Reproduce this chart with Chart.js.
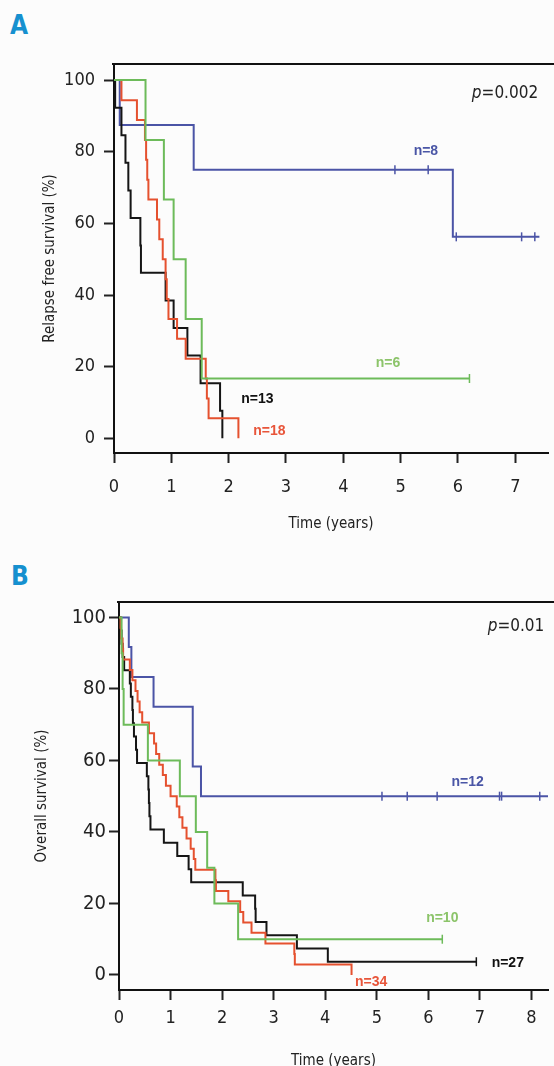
<!DOCTYPE html>
<html>
<head>
<meta charset="utf-8">
<script src="https://cdn.jsdelivr.net/npm/chart.js@4.4.1/dist/chart.umd.min.js"></script>
<style>
  html, body { margin: 0; padding: 0; background: #fcfcfc; overflow: hidden; }
  body { width: 554px; height: 1066px; position: relative; }
  .panel { position: absolute; left: 0; width: 554px; height: 540px; }
  .letter { position: absolute; font: bold 26px "DejaVu Sans", sans-serif; font-stretch: condensed; color: #1690cf; line-height: 1; }
</style>
</head>
<body>
<div class="letter" style="left:10px;top:12px">A</div>
<div class="panel" style="top:0"><canvas id="chartA" width="554" height="540"></canvas></div>
<div class="letter" style="left:11px;top:563px">B</div>
<div class="panel" style="top:540px"><canvas id="chartB" width="554" height="540"></canvas></div>
<script>
// ---- Panel A: relapse free survival ----
const timeA_blue = [0, 0.10, 1.39, 5.91, 7.42];
const survA_blue = [100, 87.5, 75, 56.25, 56.25];
const censA_blue = [4.90, 5.48, 5.97, 7.11, 7.34];

const timeA_green = [0, 0.55, 0.87, 1.04, 1.25, 1.53, 6.20];
const survA_green = [100, 83.3, 66.7, 50, 33.3, 16.7, 16.7];
const censA_green = [6.20];

const timeA_black = [0, 0.02, 0.13, 0.20, 0.25, 0.29, 0.46, 0.47, 0.90, 1.04, 1.28, 1.51, 1.85, 1.89];
const survA_black = [100, 92.3, 84.6, 76.9, 69.2, 61.5, 53.8, 46.2, 38.5, 30.8, 23.1, 15.4, 7.7, 0];

const timeA_red = [0, 0.13, 0.40, 0.54, 0.56, 0.58, 0.60, 0.75, 0.79, 0.85, 0.90, 0.92, 0.95, 1.10, 1.25, 1.60, 1.62, 1.65, 2.17];
const survA_red = [100, 94.4, 88.9, 83.3, 77.8, 72.2, 66.7, 61.1, 55.6, 50.0, 44.4, 38.9, 33.3, 27.8, 22.2, 16.7, 11.1, 5.6, 0];

const xTicksA = [0, 1, 2, 3, 4, 5, 6, 7];

// ---- Panel B: overall survival ----
const timeB_blue = [0, 0.19, 0.24, 0.67, 1.43, 1.59, 8.32];
const survB_blue = [100, 91.7, 83.3, 75, 58.3, 50, 50];
const censB_blue = [5.10, 5.59, 6.17, 7.38, 7.42, 8.16];

const timeB_green = [0, 0.05, 0.07, 0.09, 0.56, 1.18, 1.49, 1.71, 1.85, 2.31, 6.27];
const survB_green = [100, 90, 80, 70, 60, 50, 40, 30, 20, 10, 10];
const censB_green = [6.27];

const timeB_black = [0, 0.03, 0.05, 0.07, 0.10, 0.21, 0.23, 0.26, 0.27, 0.29, 0.33, 0.35, 0.54, 0.57,
  0.58, 0.59, 0.61, 0.87, 1.13, 1.35, 1.40, 2.40, 2.64, 2.65, 2.86, 3.45, 4.05, 6.93];
const survB_black = [100, 96.3, 92.6, 88.9, 85.2, 81.5, 77.8, 74.1, 70.4, 66.7, 63.0, 59.3, 55.6, 51.9,
  48.1, 44.4, 40.7, 37.0, 33.3, 29.6, 25.9, 22.2, 18.5, 14.8, 11.1, 7.4, 3.7, 3.7];
const censB_black = [6.93];

const timeB_red = [0, 0.03, 0.04, 0.07, 0.08, 0.21, 0.26, 0.32, 0.36, 0.40, 0.45, 0.58, 0.68, 0.72, 0.78,
  0.85, 0.91, 1.00, 1.12, 1.17, 1.23, 1.31, 1.39, 1.45, 1.48, 1.87, 1.88, 2.12, 2.35, 2.41, 2.57, 2.84, 3.40, 3.41, 4.51];
const survB_red = [100, 97.1, 94.1, 91.2, 88.2, 85.3, 82.4, 79.4, 76.5, 73.5, 70.6, 67.6, 64.7, 61.8, 58.8,
  55.9, 52.9, 50.0, 47.1, 44.1, 41.2, 38.2, 35.3, 32.4, 29.4, 26.5, 23.5, 20.6, 17.6, 14.7, 11.8, 8.8, 5.9, 2.9, 0];

const xTicksB = [0, 1, 2, 3, 4, 5, 6, 7, 8];
const yTicks = [0, 20, 40, 60, 80, 100];

// colours
const BLUE = "#4b54a6";
const GREEN = "#6dbb5a";
const RED = "#e5512f";
const BLACK = "#151515";
// condensed face of DejaVu Sans; Chart.js passes the weight string through,
// so the font-stretch keyword rides along there
const NARROW = '"DejaVu Sans", sans-serif';
const STRETCH = "condensed";

function stepPoints(times, surv) {
    return times.map((t, i) => ({ x: t, y: surv[i] }));
}

function survivalAt(times, surv, t) {
    let v = surv[0];
    for (let i = 0; i < times.length; i++) {
        if (times[i] <= t) v = surv[i];
    }
    return v;
}

function curve(times, surv, color) {
    return {
        data: stepPoints(times, surv),
        borderColor: color,
        borderWidth: 2,
        stepped: "before",
        pointRadius: 0,
        fill: false
    };
}

function censors(times, surv, marks, color) {
    return {
        data: marks.map(t => ({ x: t, y: survivalAt(times, surv, t) })),
        showLine: false,
        pointStyle: "line",
        rotation: 90,
        pointRadius: 4.5,
        pointBorderWidth: 1.5,
        pointBorderColor: color,
        borderColor: color
    };
}

// top frame line and text notes (n=.., p=..)
const kmNotes = {
    id: "kmNotes",
    afterDraw(chart, args, opts) {
        const ctx = chart.ctx;
        const area = chart.chartArea;
        ctx.save();
        ctx.strokeStyle = "#111";
        ctx.lineWidth = 2;
        ctx.beginPath();
        ctx.moveTo(area.left - 2, area.top);
        ctx.lineTo(chart.width, area.top);
        ctx.stroke();

        const xs = chart.scales.x;
        const ys = chart.scales.y;
        ctx.textBaseline = "middle";
        ctx.textAlign = "left";
        (opts.notes || []).forEach(n => {
            const cx = xs.getPixelForValue(n.x);
            const cy = ys.getPixelForValue(n.y);
            let total = 0;
            n.parts.forEach(p => {
                ctx.font = p.font;
                total += ctx.measureText(p.text).width;
            });
            let x = cx - total / 2;
            n.parts.forEach(p => {
                ctx.font = p.font;
                ctx.fillStyle = n.color;
                ctx.fillText(p.text, x, cy);
                x += ctx.measureText(p.text).width;
            });
        });
        ctx.restore();
    }
};

function nLabel(text, x, y, color) {
    return { x: x, y: y, color: color, parts: [{ text: text, font: 'bold 14px "Liberation Sans", sans-serif' }] };
}

function pLabel(value, x, y) {
    return {
        x: x, y: y, color: "#222",
        parts: [
            { text: "p", font: "italic " + STRETCH + " 17px " + NARROW },
            { text: "=" + value, font: STRETCH + " 17px " + NARROW }
        ]
    };
}

function axisFont(size) {
    return { family: NARROW, weight: STRETCH, size: size };
}

function buildChart(id, cfg) {
    new Chart(document.getElementById(id), {
        type: "line",
        data: { datasets: cfg.datasets },
        options: {
            responsive: false,
            animation: false,
            events: [],
            layout: { padding: { top: cfg.top, left: 0, right: 0, bottom: 0 } },
            plugins: {
                legend: { display: false },
                tooltip: { enabled: false },
                kmNotes: { notes: cfg.notes }
            },
            scales: {
                x: {
                    type: "linear",
                    min: 0,
                    max: cfg.xMax,
                    afterBuildTicks: s => { s.ticks = cfg.xTicks.map(v => ({ value: v })); },
                    afterFit: s => { s.height = cfg.xAxisHeight; },
                    grid: { drawOnChartArea: false, drawTicks: true, tickLength: 10, tickWidth: 2, tickColor: "#222" },
                    border: { display: true, color: "#111", width: 2 },
                    ticks: {
                        padding: cfg.xTickPad,
                        color: "#222",
                        maxRotation: 0,
                        autoSkip: false,
                        font: axisFont(18),
                        callback: v => String(v)
                    },
                    title: {
                        display: true,
                        text: "Time (years)",
                        color: "#222",
                        font: axisFont(15),
                        padding: { top: 0, bottom: cfg.xTitlePad }
                    }
                },
                y: {
                    min: cfg.yMin,
                    max: cfg.yMax,
                    afterBuildTicks: s => { s.ticks = yTicks.map(v => ({ value: v })); },
                    afterFit: s => { s.width = cfg.yAxisWidth; },
                    grid: { drawOnChartArea: false, drawTicks: true, tickLength: 10, tickWidth: 2, tickColor: "#222" },
                    border: { display: true, color: "#111", width: 2 },
                    ticks: {
                        padding: cfg.yTickPad,
                        color: "#222",
                        font: axisFont(cfg.yTickSize),
                        callback: v => String(v)
                    },
                    title: {
                        display: true,
                        text: cfg.yTitle,
                        color: "#222",
                        font: axisFont(15),
                        padding: { top: cfg.yTitlePad, bottom: 0 }
                    }
                }
            }
        },
        plugins: [kmNotes]
    });
}

buildChart("chartA", {
    top: 64,
    xMax: 7.57,
    yMin: -4.1,
    yMax: 104.5,
    xTicks: xTicksA,
    xAxisHeight: 87,
    yAxisWidth: 114,
    xTickPad: 14,
    yTickPad: 9,
    yTickSize: 18,
    xTitlePad: 7,
    yTitlePad: 41,
    yTitle: "Relapse free survival (%)",
    datasets: [
        curve(timeA_green, survA_green, GREEN),
        curve(timeA_red, survA_red, RED),
        curve(timeA_black, survA_black, BLACK),
        curve(timeA_blue, survA_blue, BLUE),
        censors(timeA_blue, survA_blue, censA_blue, BLUE),
        censors(timeA_green, survA_green, censA_green, GREEN)
    ],
    notes: [
        pLabel("0.002", 6.82, 96.2),
        nLabel("n=8", 5.44, 80.3, "#4a56a6"),
        nLabel("n=6", 4.78, 21, "#8cc46a"),
        nLabel("n=13", 2.50, 10.9, "#111"),
        nLabel("n=18", 2.71, 2.1, "#e8553a")
    ]
});

buildChart("chartB", {
    top: 62,
    xMax: 8.32,
    yMin: -4.2,
    yMax: 104.3,
    xTicks: xTicksB,
    xAxisHeight: 90,
    yAxisWidth: 119,
    xTickPad: 8,
    yTickPad: 3,
    yTickSize: 20,
    xTitlePad: 10,
    yTitlePad: 33,
    yTitle: "Overall survival (%)",
    datasets: [
        curve(timeB_green, survB_green, GREEN),
        curve(timeB_red, survB_red, RED),
        curve(timeB_black, survB_black, BLACK),
        curve(timeB_blue, survB_blue, BLUE),
        censors(timeB_blue, survB_blue, censB_blue, BLUE),
        censors(timeB_green, survB_green, censB_green, GREEN),
        censors(timeB_black, survB_black, censB_black, BLACK)
    ],
    notes: [
        pLabel("0.01", 7.70, 97.3),
        nLabel("n=12", 6.76, 54, "#4a56a6"),
        nLabel("n=10", 6.27, 15.8, "#8cc46a"),
        nLabel("n=27", 7.54, 3.3, "#111"),
        nLabel("n=34", 4.89, -1.9, "#e8553a")
    ]
});
</script>
</body>
</html>
